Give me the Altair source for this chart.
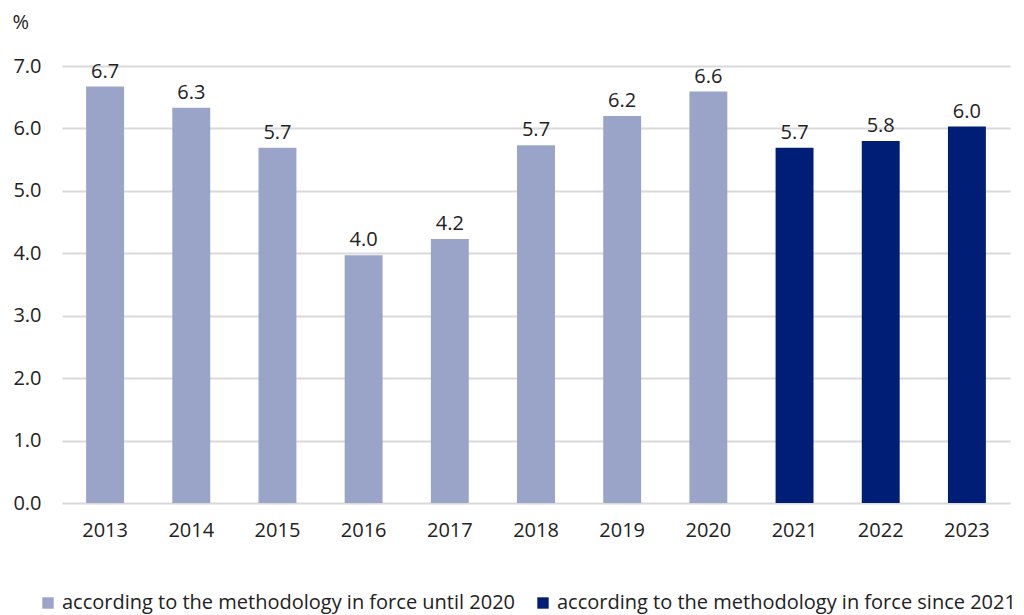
import altair as alt
import pandas as pd

years = ["2013", "2014", "2015", "2016", "2017", "2018", "2019", "2020", "2021", "2022", "2023"]
values = [6.67, 6.33, 5.69, 3.97, 4.23, 5.73, 6.20, 6.59, 5.69, 5.80, 6.03]
labels = ["6.7", "6.3", "5.7", "4.0", "4.2", "5.7", "6.2", "6.6", "5.7", "5.8", "6.0"]
series_names = ["according to the methodology in force until 2020",
                "according to the methodology in force since 2021"]
series = [series_names[0]] * 8 + [series_names[1]] * 3
colors = ["#9AA4C9", "#001E75"]

df = pd.DataFrame({"year": years, "value": values, "label": labels, "series": series})

FONT = "Open Sans"
FS = 20

x = alt.X("year:N", title=None, sort=years,
          scale=alt.Scale(paddingInner=0.56, paddingOuter=0.28),
          axis=alt.Axis(labelAngle=0, labelFontSize=FS, labelColor="#222222",
                        labelPadding=17, domain=False, ticks=False, grid=False,
                        labelFont=FONT))
y = alt.Y("value:Q", title="%",
          scale=alt.Scale(domain=[0, 7]),
          axis=alt.Axis(values=[0, 1, 2, 3, 4, 5, 6, 7], format=".1f",
                        labelFontSize=FS, labelColor="#222222", labelPadding=21,
                        labelFont=FONT, domain=False, ticks=False,
                        gridColor="#D9D9D9", gridWidth=2,
                        titleAngle=0, titleX=-50, titleY=-44, titleAlign="left",
                        titleBaseline="middle", titleFontSize=FS,
                        titleFontWeight="normal", titleColor="#222222",
                        titleFont=FONT))

bars = alt.Chart(df).mark_bar().encode(
    x=x, y=y,
    color=alt.Color("series:N", sort=series_names,
                    scale=alt.Scale(domain=series_names, range=colors),
                    legend=alt.Legend(title=None, orient="none", direction="horizontal",
                                      legendX=-24, legendY=527,
                                      symbolType="square", symbolSize=130,
                                      symbolStrokeWidth=0,
                                      labelFontSize=FS, labelColor="#222222",
                                      labelFont=FONT, columnPadding=18,
                                      labelLimit=700, symbolOffset=0))
)

text = alt.Chart(df).mark_text(baseline="bottom", dy=-5, fontSize=FS,
                               color="#222222", font=FONT).encode(
    x=alt.X("year:N", sort=years), y="value:Q", text="label:N"
)

chart = (bars + text).properties(
    width=948, height=437,
    autosize=alt.AutoSizeParams(type="none"),
    padding={"left": 54, "top": 58, "right": 6, "bottom": 112},
).configure_view(stroke=None)

chart.save("out.html", embed_options={"renderer": "svg", "actions": False})
